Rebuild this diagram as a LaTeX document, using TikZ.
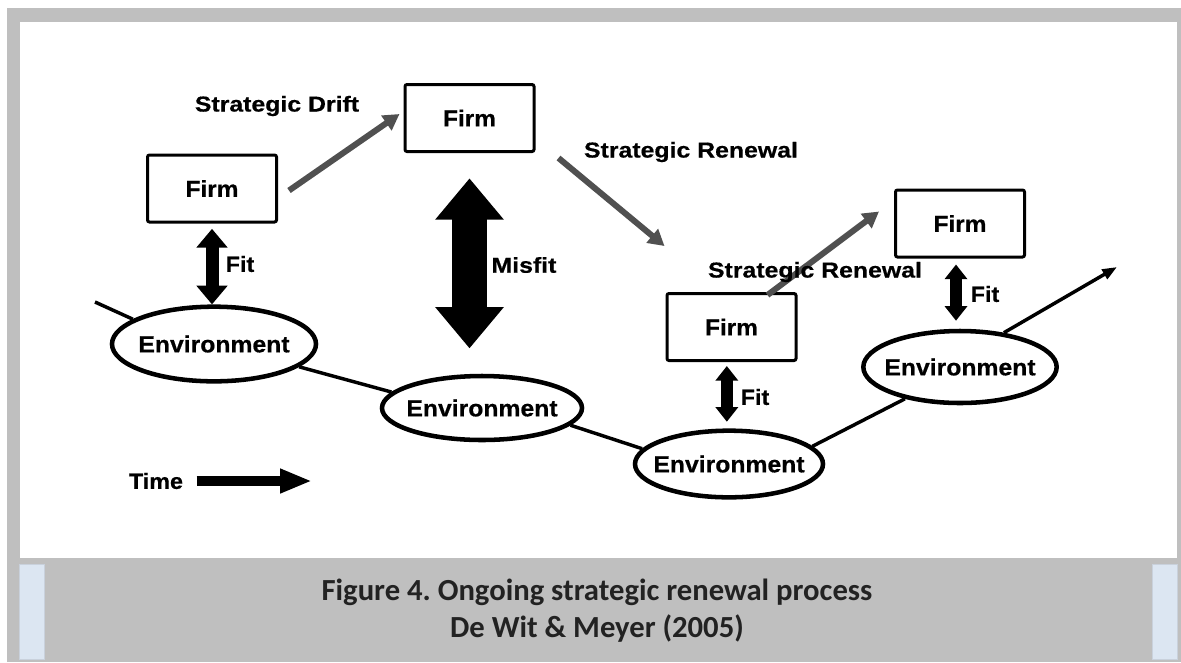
\documentclass[tikz,border=0pt]{standalone}
\usepackage{fontspec}
\setmainfont{Liberation Sans}
\newfontfamily\nodesans{Liberation Sans}[FakeStretch=1.06,FakeBold=0.6]
\newfontfamily\labelsans{Liberation Sans}[FakeStretch=1.15,FakeBold=0.6]
\newfontfamily\capfont{Carlito}
\usetikzlibrary{shapes.geometric,arrows.meta}
\definecolor{framegray}{HTML}{BFBFBF}
\definecolor{stripblue}{HTML}{DCE6F2}
\definecolor{stripedge}{HTML}{C9D1DC}
\definecolor{arrowgray}{HTML}{505050}
\definecolor{captext}{HTML}{222222}
\tikzset{
  firmbox/.style={draw, line width=2.25pt, rounded corners=1.5pt,
    minimum width=96.75pt, minimum height=50.25pt, inner sep=0pt,
    font=\nodesans\bfseries\fontsize{17.3pt}{18pt}\selectfont},
  envnode/.style={draw, ellipse, line width=3.4pt, inner sep=0pt,
    font=\nodesans\bfseries\fontsize{17.5pt}{18pt}\selectfont},
  lbl/.style={inner sep=0pt, font=\labelsans\bfseries\fontsize{16.2pt}{18pt}\selectfont},
  fitlbl/.style={inner sep=0pt, font=\nodesans\bfseries\fontsize{16.5pt}{18pt}\selectfont},
  moveto/.style={draw=arrowgray, line width=4.5pt,
    -{Triangle[length=12pt,width=13pt]}},
  fitarrow/.style={draw, line width=9.75pt,
    {Triangle[length=14pt,width=22.5pt]}-{Triangle[length=14pt,width=22.5pt]}},
  smallfit/.style={draw, line width=9pt,
    {Triangle[length=11pt,width=16.5pt]}-{Triangle[length=11pt,width=16.5pt]}},
  misfitarrow/.style={draw, line width=26pt,
    {Triangle[length=31pt,width=49.5pt]}-{Triangle[length=31pt,width=49.5pt]}},
  timeline/.style={draw, line width=2.6pt},
}
\newcommand\envtext{\makebox[0pt]{Environment}}
\begin{document}
\begin{tikzpicture}[x=0.75pt,y=-0.75pt]
\useasboundingbox (0,0) rectangle (1181,662);
% frame and caption band
\fill[white] (0,0) rectangle (1181,662);
\fill[framegray] (7,8) rectangle (1181,662);
\fill[white] (20,22) rectangle (1177,558);
\filldraw[fill=stripblue, draw=stripedge, line width=0.6pt] (19,564) rectangle (44,659);
\filldraw[fill=stripblue, draw=stripedge, line width=0.6pt] (1152,564) rectangle (1177,659);
\node[font=\capfont\bfseries\fontsize{23pt}{27.75pt}\selectfont\frenchspacing, text=captext, align=center]
  (caption) at (597,611) {Figure 4. Ongoing strategic renewal process\\De Wit \& Meyer (2005)};

% firms
\node[firmbox] (firm1) at (212,188.5) {Firm};
\node[firmbox] (firm2) at (469.5,118) {Firm};
\node[firmbox] (firm3) at (731.5,327) {Firm};
\node[firmbox] (firm4) at (960,223.5) {Firm};

% environments
\node[envnode, minimum width=153pt, minimum height=56pt] (env1) at (214,344) {\envtext};
\node[envnode, minimum width=150pt, minimum height=48pt] (env2) at (482,408) {\envtext};
\node[envnode, minimum width=141pt, minimum height=50pt] (env3) at (729,464) {\envtext};
\node[envnode, minimum width=145pt, minimum height=54pt] (env4) at (960,367) {\envtext};

% the environment path over time
\coordinate (tstart) at (95,302);
\coordinate (tend) at (1117,267);
\draw[timeline] (tstart) -- (env1.163);
\draw[timeline] (env1.-15) -- (env2.170);
\draw[timeline] (env2.-11) -- (env3.170);
\draw[timeline] (env3.12) -- (env4.-150);
\draw[timeline, -{Triangle[length=11pt,width=8pt]}] (env4.38) -- (tend);

% fit and misfit
\draw[fitarrow, shorten <=4pt] (firm1.south) -- (firm1.south |- env1.north);
\node[fitlbl] (fit1) at (240,264) {Fit};
\draw[misfitarrow, shorten <=19pt, shorten >=19pt] (firm2.south) -- (firm2.south |- env2.north);
\node[lbl] (misfit) at (524,265) {Misfit};
\draw[smallfit, shorten <=3pt, shorten >=5pt] ([xshift=-3.5]firm3.south) -- ([xshift=-3.5]firm3.south |- env3.north);
\node[fitlbl] (fit3) at (755,397) {Fit};
\draw[smallfit, shorten <=4.5pt, shorten >=6pt] ([xshift=-3]firm4.south) -- ([xshift=-3]firm4.south |- env4.north);
\node[fitlbl] (fit4) at (985,294) {Fit};

% strategic moves
\draw[moveto] ([shift={(11,2)}]firm1.east) -- ([shift={(-4,-4)}]firm2.west);
\node[lbl] (drift) at (277,106) {Strategic Drift};
\draw[moveto] ([shift={(23,40)}]firm2.east) -- ([shift={(-1,-46)}]firm3.north west);
\node[lbl] (renew1) at (691,152) {Strategic Renewal};
\draw[moveto] ([shift={(36,3)}]firm3.north) -- ([shift={(-15,23)}]firm4.north west);
\node[lbl] (renew2) at (815,272) {Strategic Renewal};

% time
\node[fitlbl] (time) at (156,481) {Time};
\coordinate (timeend) at (312,481);
\draw[line width=7.5pt, -{Triangle[length=24pt,width=17pt]}] ([xshift=10pt]time.east) -- (timeend);
\end{tikzpicture}
\end{document}
